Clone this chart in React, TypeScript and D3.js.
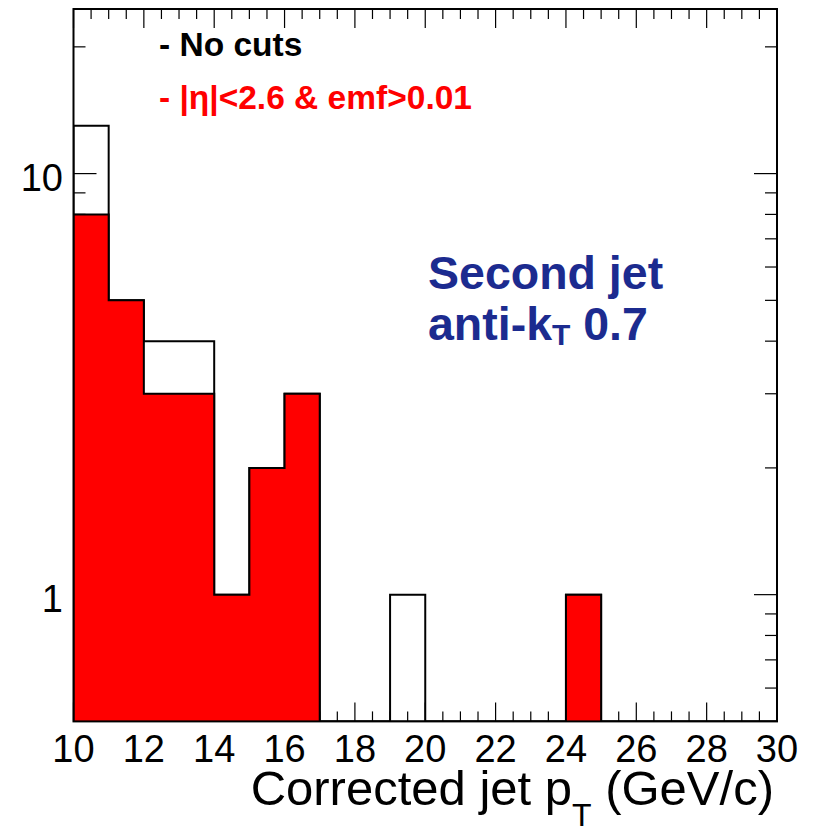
import React from "react";
import * as d3 from "d3";

const binEdges = [10, 11, 12, 13, 14, 15, 16, 17, 18, 19, 20, 21, 22, 23, 24, 25, 26, 27, 28, 29, 30];
const noCuts = [13, 5, 4, 4, 1, 2, 3, 0, 0, 1, 0, 0, 0, 0, 1, 0, 0, 0, 0, 0];
const withCuts = [8, 5, 3, 3, 1, 2, 3, 0, 0, 0, 0, 0, 0, 0, 1, 0, 0, 0, 0, 0];
const xTickLabels = [10, 12, 14, 16, 18, 20, 22, 24, 26, 28, 30];
const yTickLabels = [1, 10];

const W = 815;
const H = 832;
const L = 73.5, R = 777, T = 9, B = 721.4;
const YMIN = 0.5, YMAX = 24.6;

export default function App() {
  const x = d3.scaleLinear().domain([10, 30]).range([L, R]);
  const y = d3.scaleLog().domain([YMIN, YMAX]).range([B, T]);
  const yv = (v: number) => y(Math.max(v, YMIN));

  const pts = (vals: number[]) => {
    const p: [number, number][] = [[binEdges[0], YMIN]];
    vals.forEach((v, i) => {
      p.push([binEdges[i], v]);
      p.push([binEdges[i + 1], v]);
    });
    p.push([binEdges[binEdges.length - 1], YMIN]);
    return p;
  };
  const line = d3.line<[number, number]>().x((d) => x(d[0])).y((d) => yv(d[1]));
  const area = d3
    .area<[number, number]>()
    .x((d) => x(d[0]))
    .y0(B)
    .y1((d) => yv(d[1]));

  const xMinor = d3.range(10, 30.001, 0.5);
  const yMinor: number[] = [];
  [0.1, 1, 10].forEach((dec) => {
    for (let k = 1; k <= 9; k++) {
      const v = k * dec;
      if (v > YMIN && v < YMAX && !yTickLabels.includes(v)) yMinor.push(v);
    }
  });

  const tickStroke = "#000";
  const tw = 1.2;

  return (
    <svg
      width={W}
      height={H}
      style={{ position: "absolute", left: 0, top: 0, background: "#fff" }}
      fontFamily="'Liberation Sans', Arial, Helvetica, sans-serif"
    >
      <rect x={0} y={0} width={W} height={H} fill="#fff" />
      <defs>
        <clipPath id="frame">
          <rect x={L} y={T} width={R - L} height={B - T} />
        </clipPath>
      </defs>
      <g stroke={tickStroke} strokeWidth={tw}>
        {xMinor.map((v) => {
          const major = xTickLabels.includes(Math.round(v * 100) / 100);
          const len = major ? 19 : 10;
          return (
            <g key={"xt" + v}>
              <line x1={x(v)} x2={x(v)} y1={B} y2={B - len} />
              <line x1={x(v)} x2={x(v)} y1={T} y2={T + len} />
            </g>
          );
        })}
        {yMinor.map((v) => (
          <g key={"ym" + v}>
            <line x1={L} x2={L + 12} y1={y(v)} y2={y(v)} />
            <line x1={R} x2={R - 12} y1={y(v)} y2={y(v)} />
          </g>
        ))}
        {yTickLabels.map((v) => (
          <g key={"yM" + v}>
            <line x1={L} x2={L + 23} y1={y(v)} y2={y(v)} />
            <line x1={R} x2={R - 23} y1={y(v)} y2={y(v)} />
          </g>
        ))}
      </g>
      <g clipPath="url(#frame)">
        <path d={line(pts(noCuts)) || ""} fill="none" stroke="#000" strokeWidth={2} />
        <path d={area(pts(withCuts)) || ""} fill="#ff0000" stroke="none" />
        <path d={line(pts(withCuts)) || ""} fill="none" stroke="#000" strokeWidth={2} />
      </g>
      <rect x={L} y={T} width={R - L} height={B - T} fill="none" stroke="#000" strokeWidth={2} />
      <g fontSize={38} fill="#000">
        {xTickLabels.map((v) => (
          <text key={"xl" + v} x={x(v)} y={762} textAnchor="middle">
            {v}
          </text>
        ))}
        {yTickLabels.map((v) => (
          <text key={"yl" + v} x={63} y={y(v) + 17} textAnchor="end">
            {v}
          </text>
        ))}
      </g>
      <text x={774} y={805} fontSize={49} textAnchor="end" fill="#000">
        Corrected jet p
        <tspan fontSize={32} dy={21}>T</tspan>
        <tspan dy={-21}> (GeV/c)</tspan>
      </text>
      <text x={159} y={56} fontSize={33.5} fontWeight="bold" fill="#000">
        - No cuts
      </text>
      <text x={159} y={109} fontSize={33.5} fontWeight="bold" fill="#ff0000">
        - |η|&lt;2.6 &amp; emf&gt;0.01
      </text>
      <g fill="#1c2b8f" fontWeight="bold">
        <text x={428} y={289} fontSize={46.5}>Second jet</text>
        <text x={428} y={340} fontSize={46.5}>
          anti-k
          <tspan fontSize={30} dy={5}>T</tspan>
          <tspan dy={-5}> 0.7</tspan>
        </text>
      </g>
    </svg>
  );
}
